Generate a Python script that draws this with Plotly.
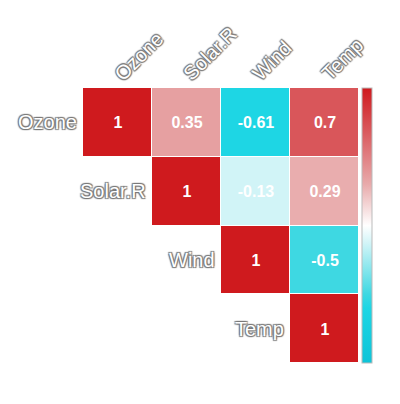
import plotly.graph_objects as go

variables = ["Ozone", "Solar.R", "Wind", "Temp"]
corr = [
    [1, 0.35, -0.61, 0.7],
    [None, 1, -0.13, 0.29],
    [None, None, 1, -0.5],
    [None, None, None, 1],
]

text = [[("" if v is None else f"{v:g}") for v in row] for row in corr]

colorscale = [
    [0.0, "#0ec4d8"], [0.2, "#1ed6e4"], [0.25, "#3ed8e2"], [0.44, "#d5f5f8"],
    [0.5, "#ffffff"], [0.65, "#e8aaab"], [0.85, "#d9565a"], [1.0, "#cf1a1e"],
]

fig = go.Figure(go.Heatmap(
    z=corr, x=variables, y=variables,
    zmin=-1, zmax=1, colorscale=colorscale,
    text=text, texttemplate="%{text}",
    textfont=dict(family="Liberation Sans, Arial", size=16, color="white", weight="bold"),
    xgap=1, ygap=1, hoverongaps=False,
    colorbar=dict(x=1.011, xanchor="left", xpad=0, y=0.5, yanchor="middle", len=1.0,
                  ypad=0, thickness=10, outlinewidth=1, outlinecolor="#bbbbbb",
                  showticklabels=False, ticks=""),
))

shadow = "1px 1px 1px #777, -1px -1px 1px #777, 1px -1px 1px #777, -1px 1px 1px #777"
lab_font = dict(family="Liberation Sans, Arial", size=20, color="white", shadow=shadow)

annotations = []
for i, name in enumerate(variables):
    annotations.append(dict(
        x=i - 0.5, y=name, xref="x", yref="y", text=name, showarrow=False,
        xanchor="right", yanchor="middle", xshift=-4, yshift=0, font=lab_font))
    annotations.append(dict(
        x=name, y=1, xref="x", yref="paper", text=name, showarrow=False,
        textangle=-45, xanchor="left", yanchor="bottom", xshift=-10, yshift=1,
        font=lab_font))

n = len(variables)
fig.update_layout(
    width=400, height=404,
    margin=dict(l=83, r=41, t=88, b=41, autoexpand=False),
    paper_bgcolor="white", plot_bgcolor="white",
    xaxis=dict(visible=False, showgrid=False, range=[-0.5, n - 0.5]),
    yaxis=dict(visible=False, showgrid=False, range=[n - 0.5, -0.5]),
    annotations=annotations,
)

fig.write_html("out.html")
